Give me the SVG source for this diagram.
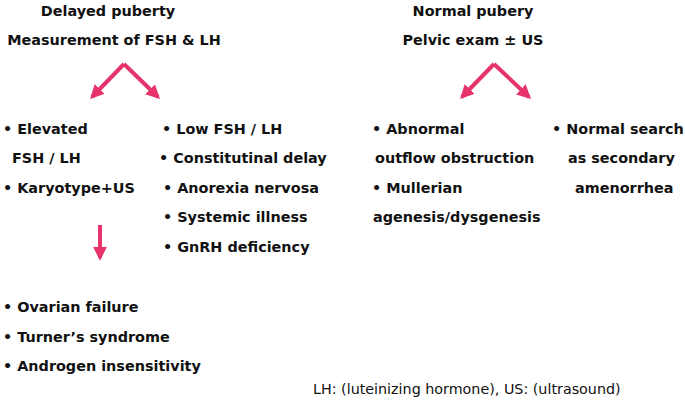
<svg xmlns="http://www.w3.org/2000/svg" width="685" height="406" viewBox="0 0 685 406">
<defs>
<style>
.t{font-family:"DejaVu Sans","Verdana",sans-serif;font-weight:bold;font-size:14.4px;fill:#111}
.n{font-family:"DejaVu Sans","Verdana",sans-serif;font-size:14.3px;fill:#111}
.c{stroke:#e6336b;stroke-width:4;fill:none;marker-end:url(#ah)}
</style>
<marker id="ah" viewBox="0 0 10 10" refX="8" refY="5" markerWidth="3.5" markerHeight="3.5" orient="auto" markerUnits="strokeWidth">
<path d="M0,0 L10,5 L0,10 Z" fill="#e6336b"/>
</marker>
</defs>
<rect width="685" height="406" fill="#fff"/>
<g id="delayed-puberty">
<text class="t" x="108" y="16" text-anchor="middle">Delayed puberty</text>
<text class="t" x="114" y="45" text-anchor="middle">Measurement of FSH &amp; LH</text>
</g>
<g id="normal-puberty">
<text class="t" x="473" y="16" text-anchor="middle">Normal pubery</text>
<text class="t" x="473" y="45" text-anchor="middle">Pelvic exam ± US</text>
</g>
<g id="elevated">
<text class="t" x="3" y="134">• Elevated</text>
<text class="t" x="12" y="163">FSH / LH</text>
<text class="t" x="3" y="193">• Karyotype+US</text>
</g>
<g id="low">
<text class="t" x="162" y="134">• Low FSH / LH</text>
<text class="t" x="159" y="163">• Constitutinal delay</text>
<text class="t" x="163" y="193">• Anorexia nervosa</text>
<text class="t" x="163" y="222">• Systemic illness</text>
<text class="t" x="163" y="252">• GnRH deficiency</text>
</g>
<g id="abnormal">
<text class="t" x="372" y="134">• Abnormal</text>
<text class="t" x="375" y="163">outflow obstruction</text>
<text class="t" x="372" y="193">• Mullerian</text>
<text class="t" x="373" y="222">agenesis/dysgenesis</text>
</g>
<g id="normal-search">
<text class="t" x="552" y="134">• Normal search</text>
<text class="t" x="568" y="163">as secondary</text>
<text class="t" x="575" y="193">amenorrhea</text>
</g>
<g id="ovarian">
<text class="t" x="3" y="312">• Ovarian failure</text>
<text class="t" x="3" y="342">• Turner’s syndrome</text>
<text class="t" x="3" y="371">• Androgen insensitivity</text>
</g>
<g id="footnote">
<text class="n" x="313" y="394">LH: (luteinizing hormone), US: (ultrasound)</text>
</g>
<g id="connectors">
<path class="c" d="M124,64 L92,97"/>
<path class="c" d="M124,64 L158,97"/>
<path class="c" d="M494,64 L462,97"/>
<path class="c" d="M494,64 L529,97"/>
<path class="c" d="M100,225 L100,258"/>
</g>
</svg>
